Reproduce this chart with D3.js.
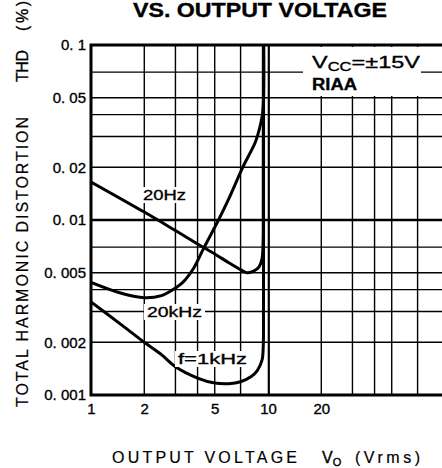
<!DOCTYPE html>
<html>
<head>
<meta charset="utf-8">
<script src="https://cdn.jsdelivr.net/npm/d3@7"></script>
<style>
  body { margin: 0; background: #fff; }
  text { font-family: "Liberation Sans", Arial, sans-serif; fill: #000; stroke: #000; stroke-width: 0.35px; }
</style>
</head>
<body>
<div id="chart"></div>
<script>
var svgWidth = 442;
var svgHeight = 468;

// data: output voltage (Vrms) vs THD (%)
var xTicks = [1, 2, 5, 10, 20];
var yTicks = [0.001, 0.002, 0.005, 0.01, 0.02, 0.05, 0.1];
var gridX = [2, 3, 4, 5, 7, 10, 20, 30, 40, 50, 70, 100];
var gridY = [0.002, 0.003, 0.004, 0.005, 0.007, 0.01, 0.02, 0.03, 0.04, 0.05, 0.07, 0.1];

var hz20 = [[1, 0.0165], [2, 0.0111], [3, 0.0087], [4, 0.0073], [5, 0.0064], [6, 0.0057],
  [7, 0.0052], [7.6, 0.0050], [8.3, 0.0051], [8.9, 0.0054], [9.25, 0.0060], [9.38, 0.0075],
  [9.4, 0.012], [9.41, 0.1]];
var khz20 = [[1, 0.0044], [1.5, 0.0038], [2, 0.0036], [2.5, 0.0037], [2.9, 0.0040], [3.3, 0.0044],
  [3.8, 0.0053], [4.3, 0.0068], [5.2, 0.0098], [6, 0.0132], [7.2, 0.020], [8.5, 0.028],
  [9.0, 0.034], [9.3, 0.040], [9.44, 0.05], [9.46, 0.1]];
var khz1 = [[1, 0.0034], [1.5, 0.0025], [2, 0.0020], [2.5, 0.0017], [3, 0.00145], [4, 0.00125],
  [5, 0.00117], [6, 0.00116], [7, 0.00119], [8, 0.00127], [8.7, 0.00138], [9.25, 0.00158],
  [9.4, 0.0019], [9.43, 0.003], [9.44, 0.1]];

var plotLeft = 91, plotTop = 45, plotBottom = 395;
var decade = 177;

var svg = d3.select("#chart").append("svg")
  .attr("width", svgWidth)
  .attr("height", svgHeight);

svg.append("rect").attr("width", svgWidth).attr("height", svgHeight).attr("fill", "#fff");

var x = d3.scaleLog().domain([1, 100]).range([plotLeft, plotLeft + 2 * decade]);
var y = d3.scaleLog().domain([0.001, 0.1]).range([plotBottom, plotTop]);

svg.append("clipPath").attr("id", "plot")
  .append("rect")
  .attr("x", plotLeft).attr("y", plotTop)
  .attr("width", x(100) - plotLeft).attr("height", plotBottom - plotTop);

var plot = svg.append("g").attr("clip-path", "url(#plot)");

// grid
plot.selectAll(".gx")
  .data(gridX)
  .enter()
  .append("line")
  .attr("x1", d => x(d) + (d === 10 ? 0.8 : 0)).attr("x2", d => x(d) + (d === 10 ? 0.8 : 0))
  .attr("y1", plotTop).attr("y2", plotBottom)
  .attr("stroke", "#000")
  .attr("stroke-width", d => d === 10 ? 2.2 : 1.4);

plot.selectAll(".gy")
  .data(gridY)
  .enter()
  .append("line")
  .attr("x1", plotLeft).attr("x2", x(100))
  .attr("y1", d => y(d)).attr("y2", d => y(d))
  .attr("stroke", "#000")
  .attr("stroke-width", d => d === 0.01 ? 2.4 : 1.4);

// white box behind the conditions text
plot.append("rect")
  .attr("x", 303).attr("y", 47)
  .attr("width", 118).attr("height", 49)
  .attr("fill", "#fff");

var line = d3.line()
  .x(d => x(d[0]))
  .y(d => y(d[1]))
  .curve(d3.curveCatmullRom.alpha(0.5));

[hz20, khz20, khz1].forEach(function(s) {
  plot.append("path")
    .datum(s)
    .attr("d", line)
    .attr("fill", "none")
    .attr("stroke", "#000")
    .attr("stroke-width", 3);
});

// frame
svg.append("path")
  .attr("d", `M${x(100)},${plotTop}H${plotLeft}V${plotBottom}H${x(100)}`)
  .attr("fill", "none")
  .attr("stroke", "#000")
  .attr("stroke-width", 3);

// curve labels with white backing
function label(txt, lx, ly, w) {
  svg.append("rect")
    .attr("x", lx - 3).attr("y", ly - 13)
    .attr("width", w + 6).attr("height", 16)
    .attr("fill", "#fff");
  svg.append("text")
    .attr("x", lx).attr("y", ly)
    .attr("font-size", "15px")
    .attr("textLength", w)
    .attr("lengthAdjust", "spacingAndGlyphs")
    .text(txt);
}
label("20Hz", 143, 200, 43);
label("20kHz", 147, 317, 55);
label("f=1kHz", 178, 364, 69);

var vcc = svg.append("text")
  .attr("x", 312).attr("y", 68)
  .attr("font-size", "17px")
  .attr("textLength", 108)
  .attr("lengthAdjust", "spacingAndGlyphs");
vcc.append("tspan").text("V");
vcc.append("tspan").attr("font-size", "12px").attr("dy", 3).text("CC");
vcc.append("tspan").attr("dy", -3).text("=\u00b115V");

svg.append("text")
  .attr("x", 312).attr("y", 90)
  .attr("font-size", "16px")
  .attr("font-weight", "bold")
  .attr("textLength", 45)
  .attr("lengthAdjust", "spacingAndGlyphs")
  .text("RIAA");

// axes labels
var leftAxis = d3.axisLeft(y)
  .tickValues(yTicks)
  .tickSize(0)
  .tickPadding(5)
  .tickFormat(d => "0. " + String(d).slice(2));

svg.append("g")
  .attr("transform", `translate(${plotLeft}, 0)`)
  .call(leftAxis)
  .call(g => g.select(".domain").remove())
  .selectAll("text")
  .attr("font-size", "15px")
  .attr("font-family", "Liberation Sans, Arial, sans-serif");

var bottomAxis = d3.axisBottom(x)
  .tickValues(xTicks)
  .tickSize(0)
  .tickPadding(8)
  .tickFormat(d3.format("d"));

svg.append("g")
  .attr("transform", `translate(0, ${plotBottom})`)
  .call(bottomAxis)
  .call(g => g.select(".domain").remove())
  .selectAll("text")
  .attr("font-size", "15px")
  .attr("font-family", "Liberation Sans, Arial, sans-serif");

// titles
svg.append("text")
  .attr("x", 133).attr("y", 17)
  .attr("font-size", "21px")
  .attr("font-weight", "bold")
  .attr("textLength", 254)
  .attr("lengthAdjust", "spacingAndGlyphs")
  .text("VS. OUTPUT VOLTAGE");

svg.append("text")
  .attr("x", 112).attr("y", 463)
  .attr("font-size", "16px")
  .attr("textLength", 185)
  .style("stroke-width", "0.2px")
  .text("OUTPUT VOLTAGE");

var vo = svg.append("text")
  .attr("x", 322).attr("y", 463)
  .attr("font-size", "16px");
vo.append("tspan").text("V");
vo.append("tspan").attr("font-size", "11px").attr("dy", 3).text("O");

svg.append("text")
  .attr("x", 355).attr("y", 463)
  .attr("font-size", "16px")
  .attr("textLength", 65)
  .style("stroke-width", "0.2px")
  .text("(Vrms)");

var yTitle = svg.append("g")
  .attr("transform", "translate(28, 0) rotate(-90)");

yTitle.append("text")
  .attr("x", -407).attr("y", 0)
  .attr("font-size", "16px")
  .attr("textLength", 290)
  .style("stroke-width", "0.2px")
  .text("TOTAL HARMONIC DISTORTION");

yTitle.append("text")
  .attr("x", -82).attr("y", 0)
  .attr("font-size", "16px")
  .attr("textLength", 32)
  .text("THD");

yTitle.append("text")
  .attr("x", -31).attr("y", 0)
  .attr("font-size", "16px")
  .attr("textLength", 30)
  .text("(%)");
</script>
</body>
</html>
